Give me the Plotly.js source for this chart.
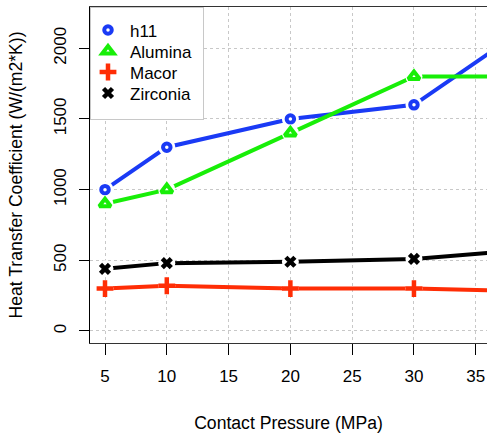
<!DOCTYPE html>
<html><head><meta charset="utf-8">
<script src="https://cdn.plot.ly/plotly-3.0.1.min.js"></script>
<style>body{margin:0;padding:0;background:#fff}#chart{width:487px;height:433px}</style>
</head><body><div id="chart"></div>
<script>
const pressure = [5, 10, 20, 30, 40];
const h11 = [1000, 1300, 1500, 1600, 2200];
const alumina = [900, 1000, 1400, 1800, 1800];
const macor = [300, 320, 300, 300, 280];
const zirconia = [440, 480, 490, 510, 580];
const names = ['h11', 'Alumina', 'Macor', 'Zirconia'];
const xTicks = [5, 10, 15, 20, 25, 30, 35];
const yTicks = [0, 500, 1000, 1500, 2000];

const series = [h11, alumina, macor, zirconia];
const colors = ['#1a3af5', '#18ee08', '#ff2d05', '#000000'];
const symbols = ['circle-open', 'triangle-up-open', 'cross-thin-open', 'x-thin-open'];
const msize = [7.5, 10, 12, 9];
const mline = [4, 4, 4.5, 4.5];

const traces = [];
series.forEach((s, i) => {
  traces.push({x: pressure, y: s, mode: 'lines', showlegend: false, hoverinfo: 'skip',
    line: {color: colors[i], width: 4}});
  traces.push({x: pressure, y: s, mode: 'markers', showlegend: false, hoverinfo: 'skip',
    marker: {symbol: 'circle', size: 17, color: '#ffffff', line: {width: 0}}});
  traces.push({x: pressure, y: s, mode: 'markers', name: names[i],
    marker: {symbol: symbols[i], size: msize[i], color: colors[i], line: {color: colors[i], width: mline[i]}}});
});

const font = {family: 'Liberation Sans, Arial, sans-serif', size: 17, color: '#000'};
const layout = {
  width: 487, height: 433,
  margin: {l: 90, r: 0, t: 7, b: 90, pad: 0},
  paper_bgcolor: '#fff', plot_bgcolor: '#fff',
  font: font,
  showlegend: true,
  legend: {x: 0, y: 1, xanchor: 'left', yanchor: 'top', bgcolor: '#fff',
    bordercolor: '#c8c8c8', borderwidth: 1, font: {family: font.family, size: 17, color: '#000'},
    tracegroupgap: 0, itemwidth: 30},
  xaxis: {range: [3.786, 35.91], tickvals: xTicks, ticktext: xTicks.map(String),
    ticks: 'outside', ticklen: 11, tickwidth: 1, tickcolor: '#000', ticklabelstandoff: 7,
    showline: true, linecolor: '#333', linewidth: 1, mirror: true,
    showgrid: true, gridcolor: '#c8c8c8', griddash: 'dot', gridwidth: 1, zeroline: false,
    tickfont: {size: 17}, automargin: false,
    title: {text: 'Contact Pressure (MPa)', font: {size: 17.6}, standoff: 33}},
  yaxis: {range: [-85, 2292], tickvals: yTicks, ticktext: yTicks.map(String),
    ticks: 'outside', ticklen: 10, tickwidth: 1, tickcolor: '#000', tickangle: -90, ticklabelstandoff: 6,
    showline: true, linecolor: '#000', linewidth: 1,
    showgrid: true, gridcolor: '#c8c8c8', griddash: 'dot', gridwidth: 1, zeroline: false,
    tickfont: {size: 17}, automargin: false,
    title: {text: 'Heat Transfer Coefficient (W/(m2*K))', font: {size: 17.6}, standoff: 24}}
};
Plotly.newPlot('chart', traces, layout, {staticPlot: true, displayModeBar: false}).then(gd => {
  // tighten legend rows to match the reference spacing
  const items = gd.querySelectorAll('.legend .traces');
  items.forEach((el, i) => {
    el.setAttribute('transform', 'translate(-2,' + (23 + 21 * i) + ')');
    const t = el.querySelector('.legendtext');
    if (t) t.setAttribute('x', 42);
  });
  const bg = gd.querySelector('.legend rect.bg');
  if (bg) bg.setAttribute('width', 113);
});
</script></body></html>
